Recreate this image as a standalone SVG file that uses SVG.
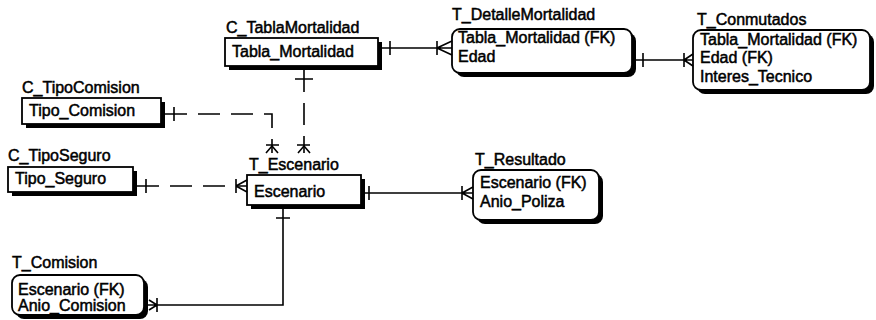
<svg xmlns="http://www.w3.org/2000/svg" width="876" height="320" viewBox="0 0 876 320">
<style>
text{font-family:"Liberation Sans",Arial,sans-serif;font-size:16px;fill:#000;stroke:#000;stroke-width:0.5}
.box{fill:#fff;stroke:#000;stroke-width:1.8}
.sh{fill:#000}
.ln{fill:none;stroke:#000;stroke-width:1.6}
.dash{stroke-dasharray:22,11}
</style>
<rect width="876" height="320" fill="#fff"/>
<g id="C_TablaMortalidad">
<text x="226" y="33">C_TablaMortalidad</text>
<rect class="sh" x="229" y="42" width="153" height="28"/>
<rect class="box" x="225" y="38" width="153" height="28"/>
<text x="232" y="57">Tabla_Mortalidad</text>
</g>
<g id="T_DetalleMortalidad">
<text x="452" y="20">T_DetalleMortalidad</text>
<rect class="sh" x="456" y="33" width="180" height="44" rx="8"/>
<rect class="box" x="452" y="29" width="180" height="44" rx="8"/>
<text x="458" y="43">Tabla_Mortalidad (FK)</text>
<text x="458" y="62">Edad</text>
</g>
<g id="T_Conmutados">
<text x="697" y="25">T_Conmutados</text>
<rect class="sh" x="697" y="34" width="177" height="60" rx="8"/>
<rect class="box" x="693" y="30" width="177" height="60" rx="8"/>
<text x="700" y="45" font-size="16.5">Tabla_Mortalidad (FK)</text>
<text x="700" y="63" font-size="16.5">Edad (FK)</text>
<text x="700" y="82" font-size="16.5">Interes_Tecnico</text>
</g>
<g id="C_TipoComision">
<text x="22" y="93">C_TipoComision</text>
<rect class="sh" x="26" y="102" width="139" height="26"/>
<rect class="box" x="22" y="98" width="139" height="26"/>
<text x="29" y="116">Tipo_Comision</text>
</g>
<g id="C_TipoSeguro">
<text x="8" y="161">C_TipoSeguro</text>
<rect class="sh" x="12" y="171" width="125" height="25"/>
<rect class="box" x="8" y="167" width="125" height="25"/>
<text x="15" y="184">Tipo_Seguro</text>
</g>
<g id="T_Escenario">
<text x="249" y="170">T_Escenario</text>
<rect class="sh" x="251" y="179" width="114" height="30"/>
<rect class="box" x="247" y="175" width="114" height="30"/>
<text x="254" y="197">Escenario</text>
</g>
<g id="T_Resultado">
<text x="475" y="165">T_Resultado</text>
<rect class="sh" x="477" y="174" width="126" height="50" rx="8"/>
<rect class="box" x="473" y="170" width="126" height="50" rx="8"/>
<text x="480" y="188">Escenario (FK)</text>
<text x="480" y="207">Anio_Poliza</text>
</g>
<g id="T_Comision">
<text x="12" y="268">T_Comision</text>
<rect class="sh" x="16" y="279" width="132" height="40" rx="8"/>
<rect class="box" x="12" y="275" width="132" height="40" rx="8"/>
<text x="18" y="295">Escenario (FK)</text>
<text x="18" y="311">Anio_Comision</text>
</g>
<g id="connectors">
<path class="ln" d="M382,48 H452 M390,41 V55 M437,41 V55 M437,48 L452,41 M437,48 L452,55"/>
<path class="ln" d="M636,60 H693 M643,53 V67 M684,53 V67 M684,60 L693,54 M684,60 L693,66"/>
<path class="ln dash" d="M304,70 V153"/>
<path class="ln" d="M295,79 H313 M297,145 H310 M304,146 L298,153 M304,146 L310,153"/>
<path class="ln dash" d="M165,114 H272 V153"/>
<path class="ln" d="M174,107 V121 M266,145 H279 M272,146 L266,153 M272,146 L278,153"/>
<path class="ln dash" d="M137,186 H247"/>
<path class="ln" d="M146,179 V193 M236,179 V193 M236,186 L247,180 M236,186 L247,192"/>
<path class="ln" d="M365,193 H473 M369,186 V200 M462,186 V200 M462,193 L473,187 M462,193 L473,199"/>
<path class="ln" d="M283,209 V305 H148 M276,218 H290 M157,298 V312 M157,305 L149,300 M157,305 L149,310"/>
</g>
</svg>
